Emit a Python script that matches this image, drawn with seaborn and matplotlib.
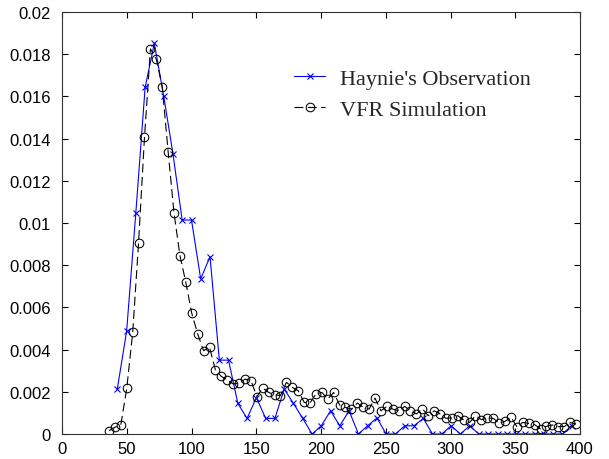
import numpy as np
import pandas as pd
import matplotlib
matplotlib.use("Agg")
import matplotlib.pyplot as plt
import seaborn as sns

# Haynie's Observation
obs_x = [42.7, 49.9, 57.0, 64.2, 71.3, 78.5, 85.7, 92.8, 100.0, 107.1,
         114.3, 121.5, 128.6, 135.8, 142.9, 150.1, 157.3, 164.4, 171.6, 178.7,
         185.9, 193.1, 200.2, 207.4, 214.5, 221.7, 228.9, 236.0, 243.2, 250.3,
         257.5, 264.7, 271.8, 279.0, 286.1, 293.3, 300.5, 307.6, 314.8, 321.9,
         329.1, 336.3, 343.4, 350.6, 357.7, 364.9, 372.1, 379.2, 386.4, 393.5]
obs_y = [0.00213, 0.00487, 0.01047, 0.01643, 0.01851, 0.01603, 0.01327, 0.01014, 0.01014, 0.00735,
         0.00840, 0.00350, 0.00350, 0.00145, 0.00074, 0.00172, 0.00074, 0.00074, 0.00213, 0.00145,
         0.00074, 0.0, 0.00039, 0.00110, 0.00039, 0.00110, 0.0, 0.00039, 0.00076, 0.0,
         0.0, 0.00039, 0.00039, 0.00074, 0.0, 0.0, 0.00039, 0.0, 0.00039, 0.0,
         0.0, 0.0, 0.0, 0.0, 0.0, 0.0, 0.0, 0.0, 0.0, 0.00039]

# VFR Simulation
sim_x = [36.3, 40.9, 45.4, 50.0, 54.6, 59.1, 63.7, 68.3, 72.8, 77.4,
         82.0, 86.5, 91.1, 95.6, 100.2, 104.8, 109.3, 113.9, 118.5, 123.0,
         127.6, 132.2, 136.7, 141.3, 145.9, 150.5, 155.0, 159.6, 164.2, 168.7,
         173.3, 177.8, 182.4, 187.0, 191.5, 196.1, 200.7, 205.2, 209.8, 214.4,
         218.9, 223.5, 228.1, 232.6, 237.2, 241.7, 246.3, 250.9, 255.4, 260.0,
         264.6, 269.1, 273.7, 278.3, 282.8, 287.4, 291.9, 296.5, 301.1, 305.6,
         310.2, 314.8, 319.3, 323.9, 328.5, 333.0, 337.6, 342.1, 346.7, 351.3,
         355.8, 360.4, 365.0, 369.5, 374.1, 378.7, 383.2, 387.8, 392.3, 396.9]
sim_y = [0.00016, 0.00032, 0.00043, 0.00216, 0.00482, 0.00904, 0.01406, 0.01825, 0.01777, 0.01646,
         0.01335, 0.01047, 0.00845, 0.00719, 0.00572, 0.00474, 0.00395, 0.00411, 0.00303, 0.00273,
         0.00257, 0.00237, 0.00240, 0.00260, 0.00253, 0.00177, 0.00218, 0.00197, 0.00186, 0.00182,
         0.00245, 0.00221, 0.00205, 0.00150, 0.00147, 0.00190, 0.00197, 0.00166, 0.00197, 0.00137,
         0.00126, 0.00118, 0.00147, 0.00126, 0.00118, 0.00170, 0.00110, 0.00131, 0.00118, 0.00110,
         0.00131, 0.00110, 0.00095, 0.00120, 0.00087, 0.00110, 0.00095, 0.00074, 0.00076, 0.00087,
         0.00066, 0.00055, 0.00087, 0.00068, 0.00076, 0.00074, 0.00052, 0.00060, 0.00079, 0.00035,
         0.00055, 0.00050, 0.00044, 0.00024, 0.00036, 0.00043, 0.00035, 0.00035, 0.00055, 0.00047]

x_ticks = [0, 50, 100, 150, 200, 250, 300, 350, 400]
x_labels = ["0", "50", "100", "150", "200", "250", "300", "350", "400"]
y_ticks = [0, 0.002, 0.004, 0.006, 0.008, 0.01, 0.012, 0.014, 0.016, 0.018, 0.02]
y_labels = ["0", "0.002", "0.004", "0.006", "0.008", "0.01", "0.012", "0.014", "0.016", "0.018", "0.02"]

sns.set_theme(style="white")
plt.rcParams['font.family'] = ['Liberation Sans', 'DejaVu Sans']

fig = plt.figure(figsize=(6.09, 4.60), dpi=100)
ax = fig.add_axes([62 / 609, 25 / 460, (580 - 62) / 609, (435 - 13) / 460])

obs_df = pd.DataFrame({"x": obs_x, "y": obs_y})
sim_df = pd.DataFrame({"x": sim_x, "y": sim_y})

sns.lineplot(data=obs_df, x="x", y="y", ax=ax, color="#0000ff", lw=0.8,
             marker="x", markersize=4, markeredgewidth=0.8, markeredgecolor="#0000ff",
             label="Haynie's Observation", estimator=None, sort=False)
sns.lineplot(data=sim_df, x="x", y="y", ax=ax, color="black", lw=0.8,
             linestyle=(0, (8, 4)),
             marker="o", markersize=6.2, markerfacecolor="none", markeredgecolor="black",
             markeredgewidth=0.75,
             label="VFR Simulation", estimator=None, sort=False)

ax.set_xlim(0, 400)
ax.set_ylim(0, 0.02)
ax.set_xticks(x_ticks)
ax.set_xticklabels(x_labels)
ax.set_yticks(y_ticks)
ax.set_yticklabels(y_labels)
ax.set_xlabel("")
ax.set_ylabel("")
ax.tick_params(axis="both", direction="in", length=4, width=0.8, colors="black",
               labelsize=12, top=True, right=True, bottom=True, left=True,
               labeltop=False, labelright=False)
ax.tick_params(axis="y", pad=8)
ax.tick_params(axis="x", pad=5)
for s in ax.spines.values():
    s.set_color("#333333")
    s.set_linewidth(0.8)
    s.set_visible(True)

leg = ax.legend(loc="upper left", bbox_to_anchor=(294 / 609, 1 - 69 / 460),
                bbox_transform=fig.transFigure, frameon=False,
                prop={"family": "Liberation Serif", "size": 16},
                handlelength=1.4, handletextpad=0.65, labelspacing=0.5,
                borderpad=0, borderaxespad=0)

fig.savefig("out.png", dpi=100)
